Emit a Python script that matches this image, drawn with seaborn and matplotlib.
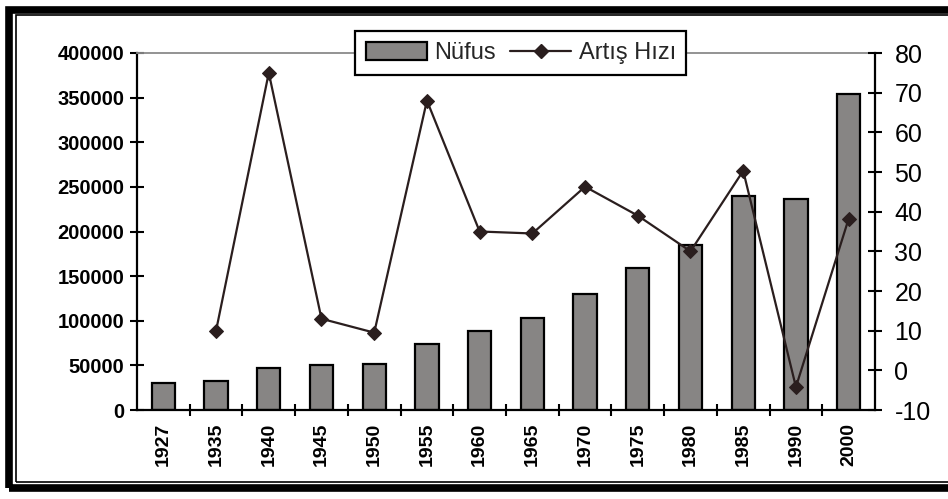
import numpy as np
import pandas as pd
import matplotlib
matplotlib.use("Agg")
import matplotlib.pyplot as plt
import seaborn as sns
from matplotlib.patches import Patch, Rectangle
from matplotlib.lines import Line2D

years = ["1927", "1935", "1940", "1945", "1950", "1955", "1960",
         "1965", "1970", "1975", "1980", "1985", "1990", "2000"]
nufus = [30000, 33000, 47000, 50000, 52000, 74000, 88000,
         103000, 130000, 159000, 185000, 240000, 236000, 354000]
artis = [np.nan, 10, 75, 13, 9.5, 68, 35, 34.5, 46.3, 39, 30, 50.3, -4.2, 38.2]
left_ticks = [0, 50000, 100000, 150000, 200000, 250000, 300000, 350000, 400000]
right_ticks = [-10, 0, 10, 20, 30, 40, 50, 60, 70, 80]

sns.set_theme(style="white")
plt.rcParams["font.family"] = ["Liberation Sans", "DejaVu Sans"]

df = pd.DataFrame({"Yil": years, "Nufus": nufus, "Artis": artis})
df["pos"] = np.arange(len(years))

W, H = 948, 499
fig = plt.figure(figsize=(W / 100, H / 100), dpi=100)
fig.patch.set_facecolor("white")

x0, x1, y0, y1 = 137, 875, 410, 53
ax = fig.add_axes([x0 / W, 1 - y0 / H, (x1 - x0) / W, (y0 - y1) / H])
ax.set_facecolor("none")

bar_color = "#878584"
sns.barplot(data=df, x="Yil", y="Nufus", ax=ax, color=bar_color,
            width=0.44, edgecolor="black", linewidth=1.6, saturation=1)
ax.set_ylim(0, 400000)
ax.set_xlim(-0.5, len(years) - 0.5)
ax.set_yticks(left_ticks)
ax.set_yticklabels([str(v) for v in left_ticks], fontsize=14.5, fontweight="bold")
ax.set_xticks(np.arange(len(years)))
ax.set_xticklabels(years, rotation=90, fontsize=14, fontweight="bold")
ax.set_xticks(np.arange(len(years) - 1) + 0.5, minor=True)
ax.tick_params(axis="x", which="major", length=0, pad=9, colors="black")
ax.tick_params(axis="x", which="minor", length=9, width=1.5, direction="inout",
               bottom=True, color="black")
ax.tick_params(axis="y", which="major", length=10, width=1.5, direction="inout",
               left=True, pad=4, colors="black")
ax.set_xlabel("")
ax.set_ylabel("")
for s in ["left", "bottom"]:
    ax.spines[s].set_color("black")
    ax.spines[s].set_linewidth(1.6)
ax.spines["top"].set_color("#8a8a8a")
ax.spines["top"].set_linewidth(1.3)
ax.spines["right"].set_visible(False)

ax2 = ax.twinx()
line_color = "#2a1e1e"
sns.lineplot(data=df, x="pos", y="Artis", ax=ax2, color=line_color,
             linewidth=1.6, marker="D", markersize=7.5,
             markerfacecolor=line_color, markeredgecolor=line_color)
ax2.set_ylim(-10, 80)
ax2.set_yticks(right_ticks)
ax2.set_yticklabels([str(v) for v in right_ticks], fontsize=18)
ax2.tick_params(axis="y", which="major", length=10, width=1.5, direction="inout",
                right=True, pad=9, colors="black")
ax2.set_ylabel("")
ax2.set_xlabel("")
ax2.set_xlim(-0.5, len(years) - 0.5)
ax2.spines["right"].set_color("black")
ax2.spines["right"].set_linewidth(1.6)
for s in ["left", "top", "bottom"]:
    ax2.spines[s].set_visible(False)

handles = [Patch(facecolor=bar_color, edgecolor="black", linewidth=1.6),
           Line2D([0], [0], color=line_color, lw=1.6, marker="D",
                  markersize=7, markerfacecolor=line_color)]
leg = ax2.legend(handles, ["Nüfus", "Artış Hızı"], ncol=2, loc="center",
                 bbox_to_anchor=(0.52, 1.0), fontsize=17, frameon=True,
                 fancybox=False, framealpha=1, edgecolor="black",
                 handlelength=2.6, handleheight=0.8, columnspacing=0.6,
                 handletextpad=0.3, borderpad=0.45, borderaxespad=0)
leg.get_frame().set_linewidth(1.6)
leg.set_zorder(10)

# scanned page frame: thick outer line and thin inner line
fig.add_artist(Rectangle((9 / W, 1 - 488 / H), (980 - 9) / W, (488 - 10) / H,
                         transform=fig.transFigure, fill=False,
                         edgecolor="black", linewidth=5.5))
fig.add_artist(Rectangle((15.5 / W, 1 - 482 / H), (980 - 15.5) / W, (482 - 15) / H,
                         transform=fig.transFigure, fill=False,
                         edgecolor="black", linewidth=1.2))

fig.savefig("out.png", dpi=100, facecolor="white")
